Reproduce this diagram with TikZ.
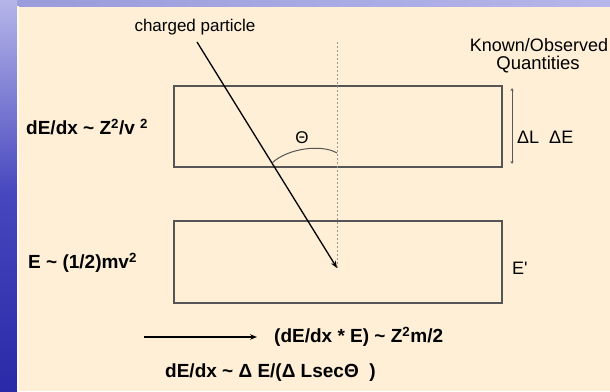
\documentclass[tikz,border=0pt]{standalone}
\usepackage{fontspec}
\setmainfont{Liberation Sans}
\usetikzlibrary{arrows.meta}
\definecolor{cream}{HTML}{FEEFD6}
\definecolor{lav}{HTML}{B6B6EA}
\definecolor{lavdark}{HTML}{9A9ADC}
\definecolor{bluemid}{HTML}{4646BE}
\definecolor{bluedark}{HTML}{2A2AA8}
\definecolor{boxline}{HTML}{555555}
\begin{document}
\begin{tikzpicture}[x=1pt,y=-1pt,
  txt/.style={inner sep=0pt, font=\fontsize{17}{20}\selectfont},
  lbl/.style={inner sep=0pt, anchor=west, font=\fontsize{19}{22}\selectfont\bfseries},
  slab/.style={draw=boxline, line width=1.4pt},
  ray/.style={draw=black, line width=1.3pt},
  normal/.style={draw=gray!80, line width=0.8pt, dash pattern=on 2pt off 2pt}]
\useasboundingbox (0,0) rectangle (610,391);
% background
\fill[cream] (0,0) rectangle (610,391);
\shade[left color=lavdark, right color=lav] (0,0) rectangle (610,6);
\shade[top color=lav, bottom color=bluedark, middle color=bluemid] (0,0) rectangle (17,391);
\fill[white!60!cream] (17,6) rectangle (18.5,391);
% slabs
\draw[slab] (174,86) rectangle (502,167);
\draw[slab] (174,221) rectangle (502,303);
% normal (dotted)
\coordinate (ntop) at (337,42);
\coordinate (tip) at (337,268);
\draw[normal] (ntop) -- (tip);
% labels top
\node[txt] (cp) at (195,27) {charged particle};
\node[txt, font=\fontsize{18}{21}\selectfont] (kn) at (539,45) {Known/Observed};
\node[txt, font=\fontsize{18.5}{21}\selectfont] (qu) at (538,65) {Quantities};
% particle track
\coordinate (src) at (197,42);
\draw[ray, -{Stealth[length=7pt,width=5.5pt]}] (src) -- (tip);
% angle arc
\coordinate (arcA) at (272,163);
\coordinate (arcB) at (337,153);
\draw[boxline, line width=1pt] (arcA) .. controls (288,148) and (322,144) .. (arcB);
\node[txt] (theta) at (302,138) {Θ};
% thickness arrow
\coordinate (tk1) at (512,88);
\coordinate (tk2) at (512,164);
\draw[gray!70!black, line width=0.8pt, {Stealth[length=3pt,width=3pt]}-{Stealth[length=3pt,width=3pt]}] (tk1) -- (tk2);
\node[txt, anchor=west, font=\fontsize{18}{20}\selectfont] (dl) at (517,137) {ΔL\ \ ΔE};
\node[txt, anchor=west, font=\fontsize{18}{20}\selectfont] (ep) at (512,268) {E\textquotesingle};
% left formulas
\node[lbl] (f1) at (26,127) {dE/dx \textasciitilde{} Z\textsuperscript{2}/v \textsuperscript{2}};
\node[lbl] (f2) at (28,263) {E \textasciitilde{} (1/2)mv\textsuperscript{2}};
% result arrow
\coordinate (r1) at (144,337);
\coordinate (r2) at (257,337);
\draw[ray, -{Stealth[length=7pt,width=5.5pt]}] (r1) -- (r2);
\node[lbl] (f3) at (274,337) {(dE/dx * E) \textasciitilde{} Z\textsuperscript{2}m/2};
\node[lbl] (f4) at (165,373) {dE/dx \textasciitilde{} Δ E/(Δ LsecΘ\ \ )};
\end{tikzpicture}
\end{document}
